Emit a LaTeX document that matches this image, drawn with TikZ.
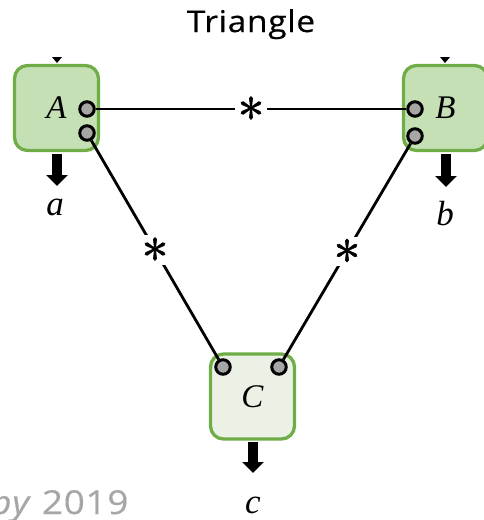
\documentclass[tikz,border=0pt]{standalone}
\usepackage{fontspec}
\setmainfont{Liberation Serif}
\newfontfamily\headfont[LetterSpace=2,FakeStretch=1.12,FakeBold=0.4]{Open Sans}
\newfontfamily\starfont[FakeBold=1.2]{Latin Modern Math}
\usetikzlibrary{arrows.meta}

\definecolor{unitedge}{HTML}{70AD47}
\definecolor{unitfill}{HTML}{C5E0B4}
\definecolor{unitpale}{HTML}{EBF2E5}
\definecolor{portfill}{HTML}{A6A6A6}
\definecolor{notegray}{HTML}{A6A6A6}

\begin{document}
\begin{tikzpicture}[x=1pt,y=-1pt,
  unit/.style={draw=unitedge, line width=3.3pt, rounded corners=13pt,
    minimum width=84pt, minimum height=85pt, inner sep=0pt,
    font=\fontsize{33}{36}\selectfont\itshape},
  port/.style={circle, draw=black, fill=portfill, line width=3pt,
    minimum size=14.5pt, inner sep=0pt},
  edge/.style={draw=black, line width=2.8pt},
  starnode/.style={fill=white, inner sep=2.5pt,
    font=\starfont\fontsize{54}{54}\selectfont},
  outarrow/.style={line width=10pt, shorten <=1.6pt,
    -{Triangle[width=21pt,length=11pt]}},
  outlabel/.style={anchor=base, font=\fontsize{35}{40}\selectfont\itshape},
  intick/.style={fill=black}
]
\useasboundingbox (0,0) rectangle (484,520);

% title and note
\node[anchor=base, font=\headfont\fontsize{30}{34}\selectfont] (title) at (251,32) {Triangle};
\node[anchor=base east, text=notegray, font=\headfont\fontsize{33}{38}\selectfont]
  (note) at (132,514) {\textit{py} 2019};

% units
\node[unit, fill=unitfill] (A) at (56.5,108) {A};
\node[unit, fill=unitfill] (B) at (445.5,108) {B};
\node[unit, fill=unitpale] (C) at (252.5,396.5) {C};

% incoming tips on top of A and B
\fill[intick] (52,57) -- (62,57) -- (57,63) -- cycle;
\fill[intick] (440,57) -- (450,57) -- (445,63) -- cycle;

% outputs
\coordinate (aend) at (57,186);
\coordinate (bend) at (446,187);
\coordinate (cend) at (253,473);
\draw[outarrow] (A.south -| aend) -- (aend);
\draw[outarrow] (B.south -| bend) -- (bend);
\draw[outarrow] (C.south -| cend) -- (cend);
\node[outlabel] (a) at (55,215) {a};
\node[outlabel] (b) at (445,225) {b};
\node[outlabel] (c) at (253,513) {c};

% ports
\node[port] (A1) at (87,109) {};
\node[port] (A2) at (87,133) {};
\node[port] (B1) at (415,109) {};
\node[port] (B2) at (415,136) {};
\node[port] (C1) at (223,367) {};
\node[port] (C2) at (279,367) {};

% links
\draw[edge] (A1) -- node[starnode] (sab) {∗} (B1);
\draw[edge] (A2) -- node[starnode] (sac) {∗} (C1);
\draw[edge] (B2) -- node[starnode] (sbc) {∗} (C2);
\end{tikzpicture}
\end{document}
